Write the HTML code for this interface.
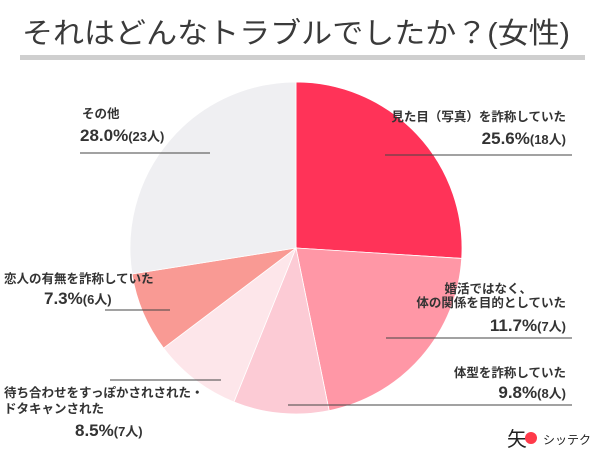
<!DOCTYPE html>
<html><head><meta charset="utf-8"><style>
body{margin:0;background:#fff;}
svg text{font-family:"Liberation Sans","Noto Sans CJK JP",sans-serif;fill:#333;}
.s{font-size:12.5px;font-weight:bold;}
.b{font-size:17px;font-weight:bold;}
.b tspan.n{font-size:13px;}
</style></head><body>
<svg width="600" height="456" viewBox="0 0 600 456">
<rect width="600" height="456" fill="#fff"/>
<text x="22" y="43" textLength="548" lengthAdjust="spacingAndGlyphs" style="font-size:29px;fill:#3a3a3a">それはどんなトラブルでしたか？(女性)</text>
<rect x="20" y="55" width="565" height="5" fill="#cfcfcf"/>
<g id="slices"></g>
<g stroke="#444" stroke-width="1">
<line x1="385" y1="155" x2="572" y2="155"/>
<line x1="80" y1="153" x2="210" y2="153"/>
<line x1="386" y1="338" x2="572" y2="338"/>
<line x1="288" y1="405" x2="572" y2="405"/>
<line x1="105" y1="310" x2="170" y2="310"/>
<line x1="110" y1="380" x2="221" y2="380"/>
</g>
<g text-anchor="end">
<text class="s" x="566" y="121">見た目（写真）を詐称していた</text>
<text class="b" x="566" y="144">25.6%<tspan class="n">(18人)</tspan></text></g>
<g>
<text class="s" x="82" y="118">その他</text>
<text class="b" x="80" y="141">28.0%<tspan class="n">(23人)</tspan></text></g>
<g text-anchor="end">
<text class="s" x="532" y="293">婚活ではなく、</text>
<text class="s" x="566" y="307">体の関係を目的としていた</text>
<text class="b" x="566" y="331">11.7%<tspan class="n">(7人)</tspan></text></g>
<g text-anchor="end">
<text class="s" x="566" y="377">体型を詐称していた</text>
<text class="b" x="566" y="398">9.8%<tspan class="n">(8人)</tspan></text></g>
<g>
<text class="s" x="4" y="283">恋人の有無を詐称していた</text>
<text class="b" x="44" y="304">7.3%<tspan class="n">(6人)</tspan></text></g>
<g>
<text class="s" x="4" y="397">待ち合わせをすっぽかされされた・</text>
<text class="s" x="4" y="413">ドタキャンされた</text>
<text class="b" x="75" y="436">8.5%<tspan class="n">(7人)</tspan></text></g>
<g>
<text x="507" y="446" style="font-size:20px;fill:#222">矢</text>
<circle cx="531" cy="438" r="6" fill="#ff3a4a"/>
<text x="543" y="444" style="font-size:12px;fill:#222">シッテク</text></g>
</svg>
<script>
const categories=["見た目（写真）を詐称していた","婚活ではなく、体の関係を目的としていた","体型を詐称していた","待ち合わせをすっぽかされ・ドタキャンされた","恋人の有無を詐称していた","その他"];
const values=[26.0,20.8,9.3,8.6,7.8,27.5];
const colors=["#ff3358","#ff97a6","#fccbd5","#fde6ea","#f99a94","#efeff2"];
const cx=296,cy=248,r=166;
const g=document.getElementById('slices');
const total=values.reduce((a,b)=>a+b,0);
let a0=0;
values.forEach((v,i)=>{
 const a1=a0+v/total*2*Math.PI;
 const p=(a)=>[cx+r*Math.sin(a),cy-r*Math.cos(a)];
 const [x0,y0]=p(a0),[x1,y1]=p(a1);
 const path=document.createElementNS('http://www.w3.org/2000/svg','path');
 path.setAttribute('d',`M${cx},${cy}L${x0},${y0}A${r},${r} 0 ${a1-a0>Math.PI?1:0} 1 ${x1},${y1}Z`);
 path.setAttribute('fill',colors[i]);
 path.setAttribute('stroke','#fff');
 path.setAttribute('stroke-width','0.8');
 
 
 g.appendChild(path);
 a0=a1;
});
</script>
</body></html>
